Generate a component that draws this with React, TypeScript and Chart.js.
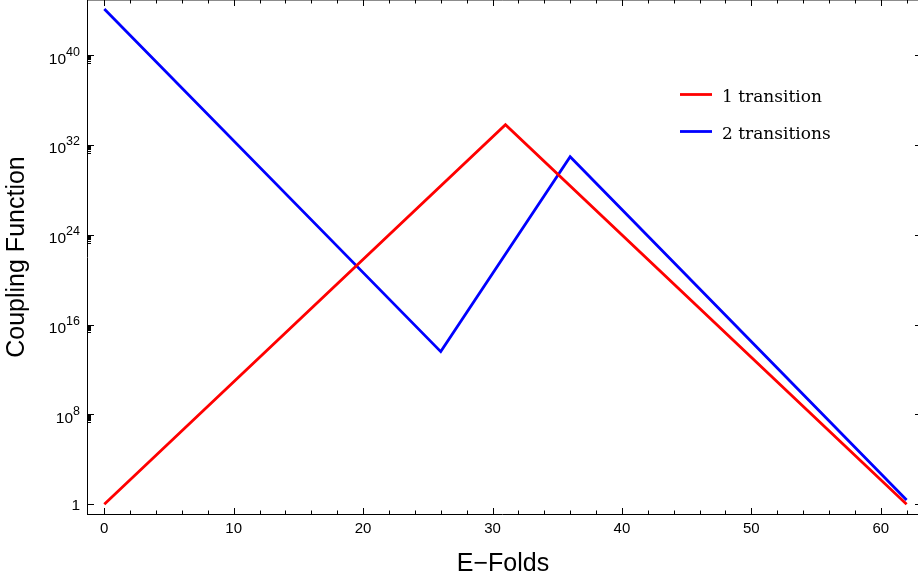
import React, { useEffect, useRef } from 'react';
import Chart from 'chart.js/auto';

// ---- data ----
const efoldsOne = [0, 31, 62];
const couplingOne = [1, 6.3e33, 1];
const efoldsTwo = [0, 26, 36, 62];
const couplingTwo = [1.26e44, 3.9e13, 8.9e30, 2.4];
const seriesLabels = ['1 transition', '2 transitions'];
const seriesColors = ['#ff0000', '#0000ff'];

// ---- axes ----
const xMajorTicks = [0, 10, 20, 30, 40, 50, 60];
const xMinorTicks = [2, 4, 6, 8, 12, 14, 16, 18, 22, 24, 26, 28, 32, 34, 36, 38, 42, 44, 46, 48, 52, 54, 56, 58, 62];
const yExponents = [0, 8, 16, 24, 32, 40];
const yMinorMultipliers = [2, 3, 4, 5, 6, 7, 8, 9];
const xTitle = 'E\u2212Folds';
const yTitle = 'Coupling Function';

const SANS = '"Liberation Sans", Arial, sans-serif';
const SERIF = '"DejaVu Serif", serif';

const framePlugin = {
  id: 'mmaFrame',
  afterDraw(chart: any) {
    const { ctx, chartArea: a, scales } = chart;
    const xs = scales.x;
    const ys = scales.y;
    ctx.save();
    // frame lines
    ctx.lineWidth = 1;
    ctx.strokeStyle = '#000';
    ctx.beginPath();
    ctx.moveTo(a.left - 0.5, a.top);
    ctx.lineTo(a.left - 0.5, a.bottom + 1);
    ctx.moveTo(a.left - 1, a.bottom + 0.5);
    ctx.lineTo(a.right, a.bottom + 0.5);
    ctx.stroke();
    ctx.strokeStyle = 'rgba(0,0,0,0.45)';
    ctx.beginPath();
    ctx.moveTo(a.left - 1, a.top + 0.5);
    ctx.lineTo(a.right, a.top + 0.5);
    ctx.stroke();

    // x ticks (bottom & top, pointing inward)
    ctx.strokeStyle = '#000';
    ctx.beginPath();
    const xt = (v: number, len: number) => {
      const px = Math.round(xs.getPixelForValue(v)) + 0.5;
      ctx.moveTo(px, a.bottom);
      ctx.lineTo(px, a.bottom - len);
      ctx.moveTo(px, a.top);
      ctx.lineTo(px, a.top + len);
    };
    xMajorTicks.forEach((v) => xt(v, 6));
    xMinorTicks.forEach((v) => xt(v, 3.5));
    // y ticks
    yExponents.forEach((e) => {
      const py = Math.round(ys.getPixelForValue(Math.pow(10, e))) + 0.5;
      ctx.moveTo(a.left, py);
      ctx.lineTo(a.left + 6, py);
      ctx.moveTo(a.right, py);
      ctx.lineTo(a.right - 3, py);
      if (e > 0) {
        yMinorMultipliers.forEach((k) => {
          const pm = Math.round(ys.getPixelForValue(k * Math.pow(10, e - 1))) + 0.5;
          ctx.moveTo(a.left, pm);
          ctx.lineTo(a.left + 3, pm);
        });
      }
    });
    ctx.stroke();

    // y tick labels with superscript exponents
    ctx.fillStyle = '#000';
    ctx.textAlign = 'right';
    ctx.textBaseline = 'alphabetic';
    const rightEdge = a.left - 8;
    yExponents.forEach((e) => {
      const py = ys.getPixelForValue(Math.pow(10, e));
      if (e === 0) {
        ctx.font = '15.5px ' + SANS;
        ctx.fillText('1', rightEdge, py + 5.5);
      } else {
        ctx.font = '12.5px ' + SANS;
        const es = String(e);
        const ew = ctx.measureText(es).width;
        ctx.fillText(es, rightEdge, py + 0.5);
        ctx.font = '15.5px ' + SANS;
        ctx.fillText('10', rightEdge - ew, py + 8.5);
      }
    });

    // legend
    const lx0 = 680;
    const lx1 = 712;
    const rowsY = [94.5, 131.5];
    chart.data.datasets.forEach((ds: any, i: number) => {
      const y = rowsY[i];
      ctx.strokeStyle = ds.borderColor;
      ctx.lineWidth = 2.8;
      ctx.beginPath();
      ctx.moveTo(lx0, y);
      ctx.lineTo(lx1, y);
      ctx.stroke();
      ctx.fillStyle = '#000';
      ctx.font = '17px ' + SERIF;
      ctx.textAlign = 'left';
      ctx.fillText(ds.label, 722, y + 7.5);
    });
    ctx.restore();
  },
};

export default function App() {
  const ref = useRef<HTMLCanvasElement | null>(null);
  useEffect(() => {
    if (!ref.current) return;
    const mk = (xsArr: number[], ysArr: number[]) => xsArr.map((x, i) => ({ x, y: ysArr[i] }));
    const chart = new Chart(ref.current, {
      type: 'line',
      data: {
        datasets: [
          {
            label: seriesLabels[0],
            data: mk(efoldsOne, couplingOne),
            borderColor: seriesColors[0],
            backgroundColor: seriesColors[0],
            borderWidth: 2.8,
            pointRadius: 0,
            tension: 0,
          },
          {
            label: seriesLabels[1],
            data: mk(efoldsTwo, couplingTwo),
            borderColor: seriesColors[1],
            backgroundColor: seriesColors[1],
            borderWidth: 2.8,
            pointRadius: 0,
            tension: 0,
          },
        ],
      },
      options: {
        responsive: false,
        animation: false,
        layout: { padding: 0 },
        plugins: { legend: { display: false }, tooltip: { enabled: false } },
        scales: {
          x: {
            type: 'linear',
            min: -1.259,
            max: 62.88,
            afterFit: (s: any) => {
              s.height = 69;
            },
            grid: { display: false, drawTicks: false },
            border: { display: false },
            ticks: {
              stepSize: 10,
              includeBounds: false,
              padding: 6,
              color: '#000',
              font: { family: SANS, size: 15 },
              maxRotation: 0,
            },
            title: {
              display: true,
              text: xTitle,
              color: '#000',
              font: { family: SANS, size: 25 },
              padding: { top: 0, bottom: 4 },
            },
          },
          y: {
            type: 'logarithmic',
            min: Math.pow(10, -0.8636),
            max: Math.pow(10, 44.897),
            afterFit: (s: any) => {
              s.width = 88;
            },
            grid: { display: false, drawTicks: false },
            border: { display: false },
            ticks: { display: false },
            title: {
              display: true,
              text: yTitle,
              color: '#000',
              font: { family: SANS, size: 25 },
              padding: { top: 2.5, bottom: 0 },
            },
          },
        },
      },
      plugins: [framePlugin],
    });
    return () => chart.destroy();
  }, []);
  return (
    <div style={{ position: 'absolute', left: 0, top: 0, width: 918, height: 583, background: '#fff' }}>
      <canvas ref={ref} width={918} height={583} style={{ display: 'block' }} />
    </div>
  );
}
